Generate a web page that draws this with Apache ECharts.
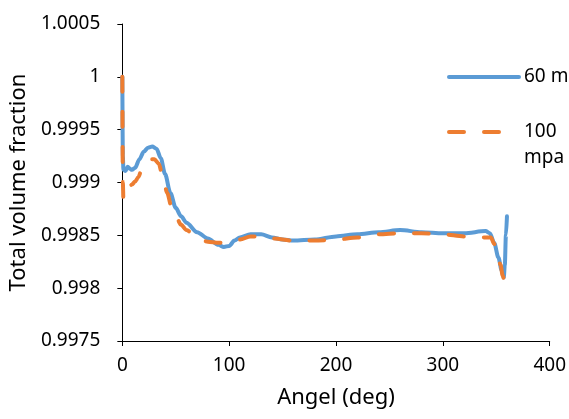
<!DOCTYPE html>
<html>
<head>
<meta charset="utf-8">
<script src="https://cdn.jsdelivr.net/npm/echarts@6/dist/echarts.min.js"></script>
<style>html,body{margin:0;padding:0;background:#fff}#c{width:569px;height:419px}</style>
</head>
<body>
<div id="c"></div>
<script>
const seriesNames = ['60 mpa', '100 mpa'];
const xTicks = [0, 100, 200, 300, 400];
const yTicks = [0.9975, 0.998, 0.9985, 0.999, 0.9995, 1, 1.0005];

const angle60 = [0, 0.5, 1, 3, 5, 7, 9, 12, 16, 20, 24, 28, 32, 36, 40, 45, 50, 55, 60, 70, 80, 90, 95, 100, 105, 110, 120, 130, 140, 150, 160, 180, 200, 220, 240, 260, 280, 300, 320, 340, 344, 348, 352, 355, 357, 358, 359, 360];
const value60 = [1.0, 0.99925, 0.99912, 0.99911, 0.99915, 0.99913, 0.99912, 0.99914, 0.99922, 0.99929, 0.99933, 0.99934, 0.99932, 0.99923, 0.99908, 0.99890, 0.99876, 0.99868, 0.99862, 0.99853, 0.99847, 0.99841, 0.99839, 0.99840, 0.99845, 0.99848, 0.99851, 0.99851, 0.99848, 0.99846, 0.99845, 0.99846, 0.99849, 0.99851, 0.99853, 0.99855, 0.99853, 0.99852, 0.99852, 0.99854, 0.99852, 0.99843, 0.99829, 0.99817, 0.99810, 0.99822, 0.99850, 0.99868];

const angle100 = [0, 0.5, 1, 3, 6, 9, 12, 15, 18, 22, 26, 30, 34, 38, 42, 46, 50, 55, 60, 70, 80, 90, 100, 110, 120, 130, 140, 160, 180, 200, 220, 240, 260, 280, 300, 320, 340, 345, 348, 351, 354, 356, 357.5];
const value100 = [1.0, 0.99900, 0.99884, 0.99893, 0.99896, 0.99898, 0.99901, 0.99905, 0.99912, 0.99919, 0.99922, 0.99922, 0.99918, 0.99905, 0.99890, 0.99877, 0.99868, 0.99860, 0.99855, 0.99847, 0.99844, 0.99843, 0.99843, 0.99846, 0.99849, 0.99849, 0.99847, 0.99845, 0.99845, 0.99846, 0.99848, 0.99851, 0.99852, 0.99852, 0.99851, 0.99849, 0.99848, 0.99848, 0.99842, 0.99834, 0.99822, 0.99812, 0.99806];

const pair = (xs, ys) => xs.map((x, i) => [x, ys[i]]);
const FONT = 'Noto Sans';
const axisCol = '#000';

const chart = echarts.init(document.getElementById('c'), null, {renderer: 'canvas'});
chart.setOption({
  animation: false,
  backgroundColor: '#fff',
  textStyle: {fontFamily: FONT},
  grid: {left: 122, right: 19, top: 24, bottom: 78, containLabel: false},
  legend: {
    orient: 'vertical',
    left: 447,
    top: 64,
    padding: 0,
    itemWidth: 70,
    itemHeight: 14,
    itemGap: 3,
    itemStyle: {opacity: 0},
    lineStyle: {width: 4, cap: 'round'},
    textStyle: {fontFamily: FONT, fontSize: 19, color: '#000', lineHeight: 26},
    formatter: name => name === '100 mpa' ? ' \n100\nmpa' : name,
    data: [ {name: seriesNames[0]}, {name: seriesNames[1]} ]
  },
  xAxis: {
    type: 'value',
    min: xTicks[0], max: xTicks[xTicks.length - 1], interval: 100,
    name: 'Angel (deg)', nameLocation: 'middle', nameGap: 46,
    nameTextStyle: {fontFamily: FONT, fontSize: 22, color: '#000'},
    axisLine: {onZero: false, lineStyle: {color: axisCol, width: 1}},
    axisTick: {show: true, inside: false, length: 5, lineStyle: {color: axisCol}},
    axisLabel: {fontFamily: FONT, fontSize: 19, color: '#000', margin: 15},
    splitLine: {show: false}
  },
  yAxis: {
    type: 'value',
    min: yTicks[0], max: yTicks[yTicks.length - 1], interval: 0.0005,
    name: 'Total volume fraction', nameLocation: 'middle', nameGap: 86,
    nameTextStyle: {fontFamily: FONT, fontSize: 22, color: '#000'},
    axisLine: {show: true, lineStyle: {color: axisCol, width: 1}},
    axisTick: {show: true, inside: false, length: 5, lineStyle: {color: axisCol}},
    axisLabel: {fontFamily: FONT, fontSize: 19, color: '#000', margin: 22,
      formatter: v => String(parseFloat(v.toFixed(4)))},
    splitLine: {show: false}
  },
  series: [
    {
      name: seriesNames[0], type: 'line', data: pair(angle60, value60),
      symbol: 'none', smooth: 0.3, smoothMonotone: 'x',
      lineStyle: {color: '#5B9BD5', width: 4, cap: 'round', join: 'round'},
      itemStyle: {color: '#5B9BD5'}, z: 2
    },
    {
      name: seriesNames[1], type: 'line', data: pair(angle100, value100),
      symbol: 'none', smooth: 0.3, smoothMonotone: 'x',
      lineStyle: {color: '#ED7D31', width: 4, type: [15, 20], cap: 'round', join: 'round'},
      itemStyle: {color: '#ED7D31'}, z: 3
    }
  ]
});
</script>
</body>
</html>
